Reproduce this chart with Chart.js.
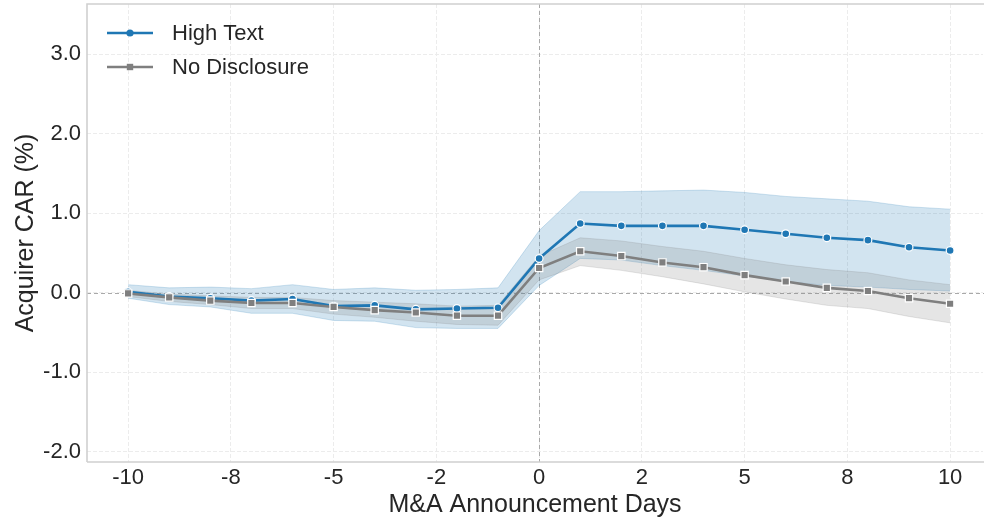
<!DOCTYPE html>
<html>
<head>
<meta charset="utf-8">
<script src="https://cdn.jsdelivr.net/npm/chart.js@4.4.0/dist/chart.umd.min.js"></script>
<style>
  html, body { margin: 0; padding: 0; background: #fff; }
</style>
</head>
<body>
<canvas id="carChart" width="984" height="523"></canvas>
<script>
// event days around the M&A announcement
const days = [-10, -9, -8, -7, -6, -5, -4, -3, -2, -1, 0, 1, 2, 3, 4, 5, 6, 7, 8, 9, 10];

// High Text: mean CAR and confidence band
const highText   = [0.01, -0.05, -0.07, -0.10, -0.08, -0.17, -0.16, -0.21, -0.20, -0.19, 0.43, 0.87, 0.84, 0.84, 0.84, 0.79, 0.74, 0.69, 0.66, 0.57, 0.53];
const highTextHi = [0.10, 0.06, 0.07, 0.05, 0.10, 0.04, 0.06, 0.03, 0.04, 0.06, 0.78, 1.27, 1.27, 1.28, 1.29, 1.26, 1.21, 1.18, 1.15, 1.08, 1.05];
const highTextLo = [-0.07, -0.15, -0.18, -0.26, -0.26, -0.35, -0.36, -0.44, -0.45, -0.45, 0.09, 0.43, 0.41, 0.34, 0.28, 0.21, 0.14, 0.09, 0.07, 0.04, 0.02];

// No Disclosure: mean CAR and confidence band
const noDisc   = [-0.01, -0.06, -0.10, -0.13, -0.13, -0.18, -0.22, -0.25, -0.29, -0.29, 0.31, 0.52, 0.46, 0.38, 0.32, 0.22, 0.14, 0.06, 0.02, -0.07, -0.14];
const noDiscHi = [0.03, -0.02, -0.04, -0.06, -0.06, -0.10, -0.12, -0.14, -0.17, -0.16, 0.46, 0.69, 0.65, 0.58, 0.52, 0.43, 0.35, 0.29, 0.25, 0.16, 0.10];
const noDiscLo = [-0.05, -0.11, -0.15, -0.20, -0.20, -0.27, -0.31, -0.36, -0.40, -0.41, 0.16, 0.34, 0.28, 0.20, 0.11, 0.01, -0.08, -0.16, -0.20, -0.30, -0.38];

// axis ticks
const xTicks = [-10, -7.5, -5, -2.5, 0, 2.5, 5, 7.5, 10];
const xTickLabels = ['-10', '-8', '-5', '-2', '0', '2', '5', '8', '10'];
const yTicks = [-2, -1, 0, 1, 2, 3];

const BLUE = '#1f77b4';
const GRAY = '#7f7f7f';
const TEXT = '#262626';
const FONT = '"Liberation Sans", Arial, sans-serif';

const pts = arr => days.map((d, i) => ({ x: d, y: arr[i] }));

// frame, zero reference lines and the legend
const extras = {
    id: 'extras',
    beforeDatasetsDraw(chart) {
        const { ctx, chartArea: a, scales: { x, y } } = chart;
        ctx.save();
        ctx.strokeStyle = '#a9a9a9';
        ctx.lineWidth = 1;
        ctx.setLineDash([4, 3]);
        const x0 = Math.round(x.getPixelForValue(0)) + 0.5;
        const y0 = Math.round(y.getPixelForValue(0)) + 0.5;
        ctx.beginPath();
        ctx.moveTo(x0, a.top); ctx.lineTo(x0, a.bottom);
        ctx.moveTo(a.left, y0); ctx.lineTo(984, y0);
        ctx.stroke();
        ctx.restore();
    },
    afterDraw(chart) {
        const { ctx, chartArea: a } = chart;
        ctx.save();
        ctx.strokeStyle = '#d0d0d0';
        ctx.lineWidth = 1.6;
        ctx.beginPath();
        ctx.moveTo(a.left, a.bottom); ctx.lineTo(a.left, a.top); ctx.lineTo(984, a.top);
        ctx.moveTo(a.left, a.bottom); ctx.lineTo(984, a.bottom);
        ctx.stroke();

        const items = [
            { label: 'High Text', color: BLUE, shape: 'circle', y: 33 },
            { label: 'No Disclosure', color: GRAY, shape: 'rect', y: 67 }
        ];
        items.forEach(it => {
            ctx.strokeStyle = it.color;
            ctx.lineWidth = 2.5;
            ctx.beginPath();
            ctx.moveTo(107, it.y); ctx.lineTo(153, it.y);
            ctx.stroke();
            ctx.fillStyle = it.color;
            ctx.beginPath();
            if (it.shape === 'circle') ctx.arc(130, it.y, 3.6, 0, Math.PI * 2);
            else ctx.rect(126.8, it.y - 3.2, 6.4, 6.4);
            ctx.fill();
            ctx.fillStyle = TEXT;
            ctx.font = '22px ' + FONT;
            ctx.textBaseline = 'middle';
            ctx.textAlign = 'left';
            ctx.fillText(it.label, 172, it.y + 1);
        });
        ctx.restore();
    }
};

const ctx = document.getElementById('carChart').getContext('2d');
new Chart(ctx, {
    type: 'line',
    data: {
        datasets: [
            { label: 'High Text', data: pts(highText), borderColor: BLUE, borderWidth: 2.6,
              pointStyle: 'circle', pointRadius: 3.9, pointBackgroundColor: BLUE,
              pointBorderColor: '#fff', pointBorderWidth: 1.2, fill: false, order: 1 },
            { label: 'No Disclosure', data: pts(noDisc), borderColor: GRAY, borderWidth: 2.6,
              pointStyle: 'rect', pointRadius: 5.2, pointBackgroundColor: GRAY,
              pointBorderColor: '#fff', pointBorderWidth: 1.2, fill: false, order: 0 },
            { label: 'htHi', data: pts(highTextHi), fill: '+1', backgroundColor: 'rgba(31,119,180,0.2)',
              borderColor: 'rgba(31,119,180,0.2)', borderWidth: 1, pointRadius: 0, order: 3 },
            { label: 'htLo', data: pts(highTextLo), fill: false,
              borderColor: 'rgba(31,119,180,0.2)', borderWidth: 1, pointRadius: 0, order: 3 },
            { label: 'ndHi', data: pts(noDiscHi), fill: '+1', backgroundColor: 'rgba(127,127,127,0.2)',
              borderColor: 'rgba(127,127,127,0.2)', borderWidth: 1, pointRadius: 0, order: 2 },
            { label: 'ndLo', data: pts(noDiscLo), fill: false,
              borderColor: 'rgba(127,127,127,0.2)', borderWidth: 1, pointRadius: 0, order: 2 }
        ]
    },
    options: {
        responsive: false,
        animation: false,
        layout: { autoPadding: false, padding: { top: 4, right: 1, left: 0, bottom: 0 } },
        plugins: { legend: { display: false }, tooltip: { enabled: false } },
        scales: {
            x: {
                type: 'linear', min: -11, max: 10.8,
                afterBuildTicks: s => { s.ticks = xTicks.map(v => ({ value: v })); },
                afterFit: s => { s.height = 61; s.paddingLeft = 0; s.paddingRight = 0; },
                ticks: { callback: v => xTickLabels[xTicks.indexOf(v)], color: TEXT, padding: 3,
                         font: { family: FONT, size: 22 }, maxRotation: 0 },
                grid: { color: '#ececec', drawTicks: false, lineWidth: 1 },
                border: { display: false, dash: [4, 2] },
                title: { display: true, text: 'M&A Announcement Days', color: TEXT,
                         font: { family: FONT, size: 25 }, padding: { top: 0, bottom: 3 } }
            },
            y: {
                type: 'linear', min: -2.13, max: 3.63,
                afterBuildTicks: s => { s.ticks = yTicks.map(v => ({ value: v })); },
                afterFit: s => { s.width = 87; s.paddingTop = 0; s.paddingBottom = 0; },
                ticks: { callback: v => v.toFixed(1), color: TEXT, padding: 6,
                         font: { family: FONT, size: 22 } },
                grid: { color: '#ececec', drawTicks: false, lineWidth: 1 },
                border: { display: false, dash: [4, 2] },
                title: { display: true, text: 'Acquirer CAR (%)', color: TEXT,
                         font: { family: FONT, size: 25 }, padding: { top: 11, bottom: 0 } }
            }
        }
    },
    plugins: [extras]
});
</script>
</body>
</html>
